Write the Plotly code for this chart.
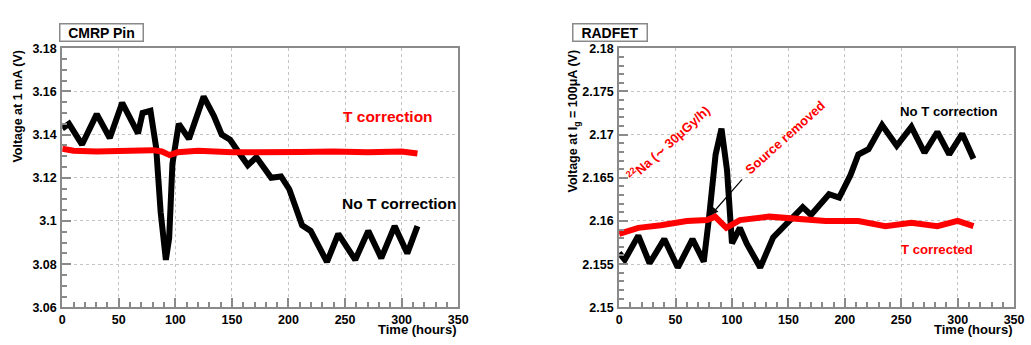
import plotly.graph_objects as go

# ---------------- data ----------------
# Left panel: CMRP Pin
cmrp_t_raw = [0, 6, 17.5, 30.5, 42, 53, 67, 71, 78, 83, 87, 91.6, 94.5, 97.4, 103, 112, 125, 134, 141,
              148.4, 157, 164, 171.6, 184.7, 193.4, 200.7, 212, 219.6, 234, 244, 259, 270.5, 282, 293.8, 305, 314]
cmrp_v_raw = [3.1428, 3.145, 3.1354, 3.1495, 3.1384, 3.1547, 3.1406, 3.150, 3.151, 3.134, 3.104, 3.082,
              3.092, 3.1265, 3.145, 3.138, 3.1576, 3.1487, 3.140, 3.1376, 3.131, 3.1258, 3.1295, 3.120,
              3.1206, 3.1147, 3.098, 3.0954, 3.081, 3.094, 3.082, 3.0954, 3.0828, 3.0976, 3.085, 3.0976]
cmrp_t_corr = [0, 10, 30, 50, 70, 80, 88, 95, 102, 120, 150, 180, 210, 240, 270, 300, 314]
cmrp_v_corr = [3.1335, 3.1325, 3.1322, 3.1325, 3.1322, 3.1328, 3.1322, 3.1305, 3.1318, 3.1325, 3.1318,
               3.1322, 3.1320, 3.1322, 3.1318, 3.1322, 3.1312]

# Right panel: RADFET
rad_t_raw = [0, 5, 17, 27, 40, 52, 65, 75, 79.6, 85.5, 90.7, 95.6, 100, 107, 113, 125, 136.5, 145, 154,
             162.7, 170, 186, 195, 205, 212, 221, 233, 246, 259, 270.6, 282, 292.5, 304, 314]
rad_v_raw = [2.1563, 2.1555, 2.1583, 2.1551, 2.1579, 2.1546, 2.1579, 2.1553, 2.1603, 2.1677, 2.1707,
             2.1659, 2.1574, 2.1592, 2.1574, 2.1546, 2.1581, 2.1592, 2.1603, 2.1616, 2.1607, 2.1631,
             2.1627, 2.1653, 2.1677, 2.1683, 2.1711, 2.1687, 2.1709, 2.1679, 2.1703, 2.1677, 2.1701, 2.1672]
rad_t_corr = [0, 17, 37, 60, 78, 85, 95, 107, 133, 154, 183, 212, 236, 259, 282, 300, 314]
rad_v_corr = [2.1585, 2.1592, 2.1595, 2.1600, 2.1601, 2.1605, 2.1592, 2.1601, 2.1605, 2.1603, 2.1600,
              2.1600, 2.1594, 2.1598, 2.1594, 2.1600, 2.1594]

x_ticks = [0, 50, 100, 150, 200, 250, 300, 350]
x_ticklabels = ["0", "50", "100", "150", "200", "250", "300", "350"]
left_yticks = [3.06, 3.08, 3.10, 3.12, 3.14, 3.16, 3.18]
left_yticklabels = ["3.06", "3.08", "3.1", "3.12", "3.14", "3.16", "3.18"]
right_yticks = [2.150, 2.155, 2.160, 2.165, 2.170, 2.175, 2.180]
right_yticklabels = ["2.15", "2.155", "2.16", "2.165", "2.17", "2.175", "2.18"]

# ---------------- figure ----------------
W, H = 1031, 345
FONT = "Liberation Sans, Arial, Helvetica, sans-serif"
RED = "#ff0000"
FRAME = "#8a8a8a"

fig = go.Figure()
fig.add_trace(go.Scatter(x=cmrp_t_raw, y=cmrp_v_raw, mode="lines",
                         line=dict(color="black", width=6), xaxis="x", yaxis="y"))
fig.add_trace(go.Scatter(x=cmrp_t_corr, y=cmrp_v_corr, mode="lines",
                         line=dict(color=RED, width=6), xaxis="x", yaxis="y"))
fig.add_trace(go.Scatter(x=rad_t_raw, y=rad_v_raw, mode="lines",
                         line=dict(color="black", width=6), xaxis="x2", yaxis="y2"))
fig.add_trace(go.Scatter(x=rad_t_corr, y=rad_v_corr, mode="lines",
                         line=dict(color=RED, width=6), xaxis="x2", yaxis="y2"))

y_dom = [1 - 313 / H, 1 - 43 / H]
tickfont = dict(family=FONT, size=12.5, color="black", weight="bold")


def xax(domain, anchor):
    return dict(domain=domain, anchor=anchor, range=[0, 350], tickmode="array",
                tickvals=x_ticks, ticktext=x_ticklabels, ticks="inside", ticklen=9,
                tickcolor=FRAME, tickwidth=1.5,
                minor=dict(dtick=10, ticks="inside", ticklen=5, tickcolor=FRAME, showgrid=False),
                showline=True, linecolor=FRAME, linewidth=2, mirror=True,
                showgrid=True, gridcolor="#c4c4c4", griddash="dot", gridwidth=1,
                tickfont=tickfont, zeroline=False, fixedrange=True, ticklabelstandoff=0)


def yax(domain, anchor, rng, vals, texts, minor):
    return dict(domain=domain, anchor=anchor, range=rng, tickmode="array",
                tickvals=vals, ticktext=texts, ticks="inside", ticklen=9,
                tickcolor=FRAME, tickwidth=1.5,
                minor=dict(dtick=minor, tick0=rng[0], ticks="inside", ticklen=5,
                           tickcolor=FRAME, showgrid=False),
                showline=True, linecolor=FRAME, linewidth=2, mirror=True,
                showgrid=True, gridcolor="#c4c4c4", griddash="dot", gridwidth=1,
                tickfont=tickfont, zeroline=False, fixedrange=True, ticklabelstandoff=1)


fig.update_layout(
    width=W, height=H, margin=dict(l=0, r=0, t=0, b=0),
    paper_bgcolor="white", plot_bgcolor="white", showlegend=False,
    xaxis=xax([60 / W, 461 / W], "y"),
    yaxis=yax(y_dom, "x", [3.06, 3.18], left_yticks, left_yticklabels, 0.005),
    xaxis2=xax([624 / W, 1024 / W], "y2"),
    yaxis2=yax(y_dom, "x2", [2.15, 2.18], right_yticks, right_yticklabels, 0.001),
)

ann = []
def bold(size, color="black"):
    return dict(family=FONT, size=size, color=color, weight="bold")

# panel title boxes
ann.append(dict(text="CMRP Pin", xref="paper", yref="paper", x=56.5 / W, y=1 - 17 / H,
                showarrow=False, font=bold(14), bordercolor=FRAME, borderwidth=1.5,
                borderpad=0, width=82, height=16, bgcolor="white"))
ann.append(dict(text="RADFET", xref="paper", yref="paper", x=614.5 / W, y=1 - 17 / H,
                showarrow=False, font=bold(14), bordercolor=FRAME, borderwidth=1.5,
                borderpad=0, width=73, height=16, bgcolor="white"))
# axis titles
ann.append(dict(text="Voltage at 1 mA (V)", xref="paper", yref="paper", x=15 / W, y=1 - 42 / H,
                xanchor="center", yanchor="top", textangle=-90, showarrow=False, font=bold(12.5)))
ann.append(dict(text="Voltage at I<sub>g</sub> = 100μA (V)", xref="paper", yref="paper",
                x=578 / W, y=1 - 42 / H, xanchor="center", yanchor="top", textangle=-90,
                showarrow=False, font=bold(12.5)))
ann.append(dict(text="Time (hours)", xref="paper", yref="paper", x=461 / W, y=0,
                xanchor="right", yanchor="bottom", showarrow=False, font=bold(13), borderpad=0))
ann.append(dict(text="Time (hours)", xref="paper", yref="paper", x=1024 / W, y=0,
                xanchor="right", yanchor="bottom", showarrow=False, font=bold(13), borderpad=0))
# in-plot labels
ann.append(dict(text="T correction", xref="x", yref="y", x=288, y=3.1484, showarrow=False,
                font=bold(15.5, RED)))
ann.append(dict(text="No T correction", xref="x", yref="y", x=298.4, y=3.108, showarrow=False,
                font=bold(15.5)))
ann.append(dict(text="No T correction", xref="x2", yref="y2", x=292, y=2.1727, showarrow=False,
                font=bold(13.2)))
ann.append(dict(text="T corrected", xref="x2", yref="y2", x=281.7, y=2.1567, showarrow=False,
                font=bold(13.2, RED)))
ann.append(dict(text="<sup>22</sup>Na (∼ 30μGy/h)", xref="x2", yref="y2", x=43.5, y=2.169,
                textangle=-42, showarrow=False, font=bold(13, RED)))
ann.append(dict(text="Source removed", xref="x2", yref="y2", x=147, y=2.1697,
                textangle=-42, showarrow=False, font=bold(13, RED)))
ann.append(dict(text="", xref="x2", yref="y2", x=81.4, y=2.1607, axref="x2", ayref="y2",
                ax=110.2, ay=2.165, showarrow=True, arrowhead=2, arrowsize=1.2,
                arrowwidth=1.2, arrowcolor="black"))
fig.update_layout(annotations=ann)

fig.write_html("out.html")
